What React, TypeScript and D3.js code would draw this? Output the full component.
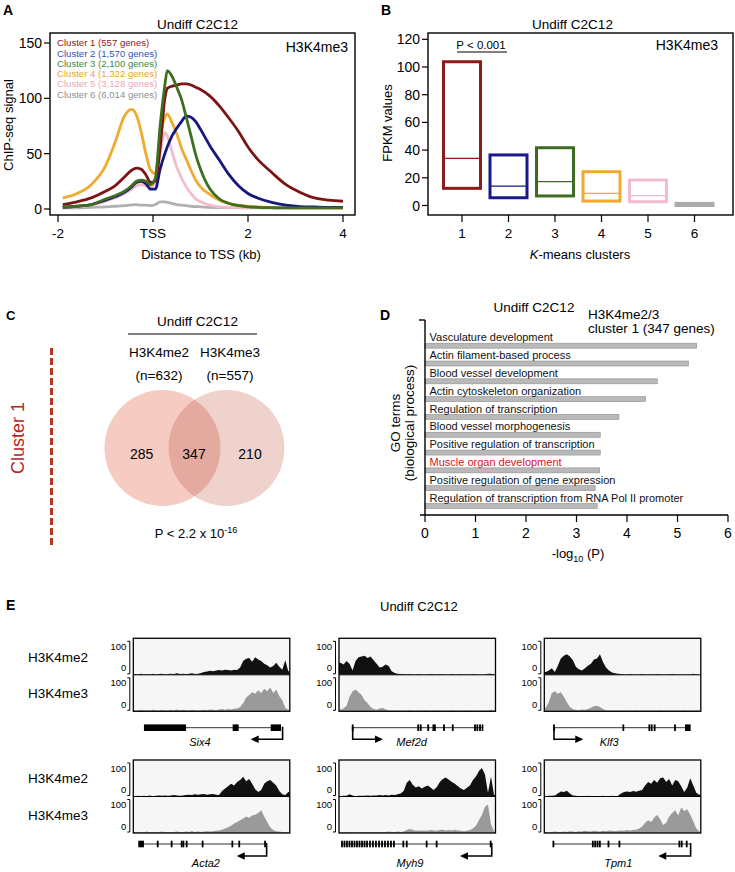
import React from 'react';
import * as d3 from 'd3';

const FONT = "'Liberation Sans', Arial, Helvetica, sans-serif";

// ---------------- Panel A data ----------------
const profileX = [-1.9, -1.6, -1.3, -1.0, -0.8, -0.6, -0.45, -0.35, -0.25, -0.15, -0.05, 0.05, 0.15, 0.25, 0.3, 0.4, 0.5, 0.6, 0.7, 0.8, 0.9, 1.0, 1.2, 1.4, 1.6, 1.8, 2.0, 2.2, 2.5, 2.8, 3.1, 3.4, 3.7, 4.0];
const cluster1Signal = [4, 6.5, 10, 16, 21, 29, 35, 37, 36, 31, 24, 25, 55, 100, 109, 111, 112, 113, 113, 112, 110, 108, 102, 93, 82, 70, 56, 45, 33, 22, 15, 10, 8, 7];
const cluster2Signal = [1.5, 2.5, 4, 8, 11, 15, 20, 24, 25, 23, 18, 18, 36, 50, 56, 66, 73, 79, 84, 83, 79, 72, 57, 44, 31, 21, 14, 10, 6, 3.5, 2.2, 1.8, 1.5, 1.5];
const cluster3Signal = [1.5, 2.5, 4, 9, 12, 16, 21, 25, 26, 25, 22, 28, 75, 112, 125, 120, 110, 99, 83, 66, 49, 36, 18, 9, 5, 3, 2, 1.5, 1.2, 1, 1, 1, 1, 1];
const cluster4Signal = [10, 14, 22, 39, 60, 84, 90, 85, 70, 50, 35, 32, 66, 83, 86, 78, 68, 55, 45, 35, 26, 20, 13, 8, 5, 3.5, 2.5, 2, 1.5, 1.2, 1, 1, 1, 1];
const cluster5Signal = [1.5, 2, 3.5, 7, 10, 14, 18, 21, 22, 21, 20, 24, 50, 69, 66, 52, 38, 28, 20, 14, 9, 6.5, 3.5, 2, 1.5, 1.5, 1.2, 1.2, 1, 1, 1, 1, 1, 1];
const cluster6Signal = [1, 1, 1.5, 2, 2.5, 3, 3.8, 4, 3.5, 3.5, 3, 4, 6.5, 6.5, 6, 5, 4, 3.5, 3, 2.5, 2.2, 2, 1.5, 1.3, 1.2, 1.2, 1.1, 1, 1, 1, 1, 1, 1, 1];
const clusterSignals = [cluster1Signal, cluster2Signal, cluster3Signal, cluster4Signal, cluster5Signal, cluster6Signal];
const clusterLabels = ['Cluster 1 (557 genes)', 'Cluster 2 (1,570 genes)', 'Cluster 3 (2,100 genes)', 'Cluster 4 (1,322 genes)', 'Cluster 5 (3,128 genes)', 'Cluster 6 (6,014 genes)'];
const yTicksA = [0, 50, 100, 150];
const xTicksA = [-2, 0, 2, 4];
const xTickLabelsA = ['-2', 'TSS', '2', '4'];

// ---------------- Panel B data ----------------
const boxClusters = [1, 2, 3, 4, 5, 6];
const boxQ1 = [12.4, 5.6, 6.9, 3.2, 2.7, 0];
const boxMedian = [34, 14, 17.2, 8.8, 7.1, 0.8];
const boxQ3 = [103.8, 36.5, 41.7, 24.4, 18.4, 1.5];
const yTicksB = [0, 20, 40, 60, 80, 100, 120];

// ---------------- Panel C data ----------------
const vennSets = ['H3K4me2', 'H3K4me3'];
const vennTotals = [632, 557];
const vennCounts = [285, 347, 210];

// ---------------- Panel D data ----------------
const goTerms = [
  'Vasculature development',
  'Actin filament-based process',
  'Blood vessel development',
  'Actin cytoskeleton organization',
  'Regulation of transcription',
  'Blood vessel morphogenesis',
  'Positive regulation of transcription',
  'Muscle organ development',
  'Positive regulation of gene expression',
  'Regulation of transcription from RNA Pol II promoter',
];
const goLogP = [5.38, 5.22, 4.6, 4.37, 3.84, 3.47, 3.47, 3.46, 3.37, 3.41];
const goHighlight = 'Muscle organ development';
const xTicksD = [0, 1, 2, 3, 4, 5, 6];

// ---------------- Panel E data ----------------
const trackMarks = ['H3K4me2', 'H3K4me3'];
const six4Me2 = [2, 1, 3, 1, 2, 1, 3, 1, 2, 3, 1, 2, 3, 2, 4, 2, 3, 2, 3, 4, 2, 3, 5, 8, 9, 11, 10, 12, 13, 12, 14, 13, 12, 14, 13, 20, 38, 44, 46, 36, 48, 42, 38, 30, 26, 20, 24, 33, 22, 14, 40, 10];
const six4Me3 = [3, 2, 4, 2, 3, 2, 4, 3, 2, 4, 3, 2, 4, 3, 5, 3, 4, 3, 2, 4, 3, 2, 3, 4, 3, 5, 4, 3, 5, 6, 4, 6, 5, 7, 8, 12, 22, 38, 45, 52, 48, 58, 50, 62, 55, 65, 50, 60, 42, 30, 10, 4];
const mef2dMe2 = [33, 28, 38, 30, 12, 38, 48, 50, 52, 46, 50, 40, 30, 20, 22, 28, 24, 10, 5, 3, 2, 2, 1, 2, 1, 1, 2, 1, 1, 1, 2, 1, 1, 2, 1, 1, 1, 2, 1, 1, 2, 1, 1, 1, 2, 1, 1, 1, 1, 3, 3, 1];
const mef2dMe3 = [5, 8, 15, 40, 55, 60, 52, 45, 30, 22, 12, 6, 4, 8, 9, 5, 3, 2, 2, 3, 2, 2, 2, 3, 2, 2, 2, 2, 3, 2, 2, 2, 3, 2, 2, 2, 2, 3, 2, 2, 2, 2, 3, 2, 2, 2, 2, 2, 3, 2, 4, 2];
const klf3Me2 = [8, 12, 18, 8, 25, 45, 52, 56, 50, 40, 22, 15, 12, 18, 25, 30, 42, 45, 56, 35, 20, 12, 6, 4, 3, 2, 1, 1, 2, 1, 1, 1, 2, 1, 1, 1, 1, 2, 1, 1, 1, 1, 2, 1, 1, 1, 1, 1, 1, 3, 1, 1];
const klf3Me3 = [10, 25, 50, 55, 48, 52, 40, 25, 12, 6, 4, 3, 5, 4, 6, 10, 14, 15, 12, 6, 3, 2, 2, 3, 2, 2, 3, 2, 2, 2, 3, 2, 2, 2, 3, 2, 2, 2, 3, 2, 2, 2, 3, 2, 2, 2, 3, 2, 2, 2, 3, 2];
const acta2Me2 = [1, 2, 1, 2, 1, 3, 1, 2, 3, 2, 3, 2, 3, 4, 3, 2, 3, 4, 5, 4, 6, 5, 6, 7, 5, 6, 7, 5, 4, 15, 22, 28, 35, 30, 40, 45, 54, 42, 48, 35, 20, 12, 18, 35, 42, 45, 38, 30, 15, 6, 4, 12];
const acta2Me3 = [3, 2, 3, 2, 4, 2, 3, 2, 3, 4, 2, 3, 2, 3, 4, 3, 2, 4, 3, 5, 3, 4, 3, 4, 5, 4, 5, 6, 7, 9, 12, 16, 20, 26, 30, 35, 40, 45, 42, 48, 50, 55, 62, 45, 30, 15, 8, 5, 4, 3, 3, 2];
const myh9Me2 = [1, 2, 2, 6, 3, 1, 2, 2, 2, 3, 2, 3, 3, 4, 3, 4, 3, 5, 4, 6, 8, 15, 38, 45, 32, 25, 28, 22, 27, 30, 24, 18, 26, 40, 48, 52, 46, 40, 35, 28, 22, 18, 24, 30, 45, 55, 70, 78, 60, 10, 55, 5];
const myh9Me3 = [2, 2, 3, 2, 3, 2, 2, 3, 2, 3, 2, 3, 3, 2, 3, 3, 4, 3, 3, 4, 3, 4, 8, 11, 9, 6, 7, 6, 7, 6, 8, 7, 6, 8, 9, 7, 8, 7, 9, 7, 6, 5, 6, 8, 12, 20, 35, 50, 72, 78, 25, 4];
const tpm1Me2 = [1, 2, 2, 3, 8, 14, 12, 16, 8, 3, 2, 1, 1, 1, 2, 1, 1, 1, 1, 2, 1, 1, 2, 1, 2, 8, 12, 14, 12, 15, 13, 16, 18, 30, 40, 35, 45, 38, 50, 52, 40, 48, 30, 45, 42, 28, 12, 25, 50, 30, 10, 5];
const tpm1Me3 = [3, 2, 3, 4, 3, 2, 4, 3, 5, 4, 3, 5, 4, 6, 5, 4, 6, 5, 4, 6, 5, 7, 6, 5, 6, 7, 6, 8, 7, 8, 9, 12, 18, 28, 35, 30, 42, 50, 38, 22, 28, 45, 55, 62, 48, 70, 60, 65, 50, 32, 12, 4];

// gene models in % of the locus window
const geneNames = ['Six4', 'Mef2d', 'Klf3', 'Acta2', 'Myh9', 'Tpm1'];
const geneSignals = [[six4Me2, six4Me3], [mef2dMe2, mef2dMe3], [klf3Me2, klf3Me3], [acta2Me2, acta2Me3], [myh9Me2, myh9Me3], [tpm1Me2, tpm1Me3]];
const geneExons: number[][][] = [
  [[6.8, 33.7], [63.5, 67.3], [87.8, 94.4]],
  [[8.75, 8.75], [50.6, 50.6], [52.2, 52.2], [57, 57], [60.3, 60.3], [61.3, 61.3], [67.1, 67.1], [72.7, 72.7], [86.9, 86.9], [88.4, 88.4], [90.1, 90.1], [91.2, 92.2]],
  [[6.2, 6.2], [50.5, 50.5], [67.1, 67.1], [68.6, 68.6], [70.5, 70.5], [83.5, 83.5], [89.9, 93.5]],
  [[3.2, 6.8], [15.6, 15.6], [24.5, 24.5], [30.9, 30.9], [32, 32], [34.1, 34.1], [44.3, 44.3], [63.3, 63.3], [67.7, 67.7], [84.2, 84.2]],
  [[1.9, 1.9], [3.5, 3.5], [5.1, 5.1], [6.7, 6.7], [8.3, 8.3], [9.9, 9.9], [11.5, 11.5], [13.1, 13.1], [14.7, 14.7], [16.3, 16.3], [17.9, 17.9], [19.8, 19.8], [21.7, 21.7], [23.6, 23.6], [25.6, 25.6], [27.5, 27.5], [29.4, 29.4], [31.3, 31.3], [33.2, 33.2], [35.1, 35.1], [41.1, 41.1], [43.3, 43.3], [56, 56], [62.4, 62.4], [96.9, 96.9]],
  [[5.8, 5.8], [31, 31], [32.5, 32.5], [34, 34], [35.5, 35.5], [41, 41], [48, 48], [86.3, 86.3], [87.8, 87.8], [91, 91]],
];
const geneSpan = [[6.8, 94.4], [8.75, 92.2], [6.2, 93.1], [3.2, 85.2], [1.7, 96.9], [5.8, 93.5]];
const geneTss = [95.4, 8.75, 6.2, 85.2, 97.6, 93.5];
const geneArrowTo = [75, 28.1, 24.9, 66.1, 77.3, 72.8];

// ---------------- layout ----------------
const clusterLineColors = ['#7d1414', '#16187f', '#3f6e1e', '#f0aa30', '#f2bccb', '#b0b0b0'];
const clusterTextColors = ['#8b1a1a', '#2f55b5', '#3b8a3b', '#e8a52a', '#eaa6b6', '#8f8f8f'];
const boxColors = ['#8b1a1a', '#1a1a8a', '#3d6b22', '#f0aa30', '#f2bccb', '#aaaaaa'];
const drawOrderA = [5, 4, 3, 1, 0, 2];
const geneLabelPos = [42.6, 46.4, 41.5, 46.4, 45.4, 47.3];

function PanelA() {
  const x = d3.scaleLinear().domain([-2, 4]).range([58, 343]);
  const y = d3.scaleLinear().domain([0, 150]).range([209, 43]);
  const line = d3.line<number>().x((_, i) => x(profileX[i])).y((d) => y(d)).curve(d3.curveMonotoneX);
  const f = { l: 50, t: 33, r: 355, b: 215 };
  return (
    <g>
      <text x={3} y={15} fontSize={14} fontWeight="bold">A</text>
      <text x={197.5} y={29} fontSize={13.5} textAnchor="middle">Undiff C2C12</text>
      {drawOrderA.map((i) => (
        <path key={i} d={line(clusterSignals[i]) || ''} fill="none" stroke={clusterLineColors[i]} strokeWidth={2.8} strokeLinejoin="round" />
      ))}
      <rect x={f.l} y={f.t} width={f.r - f.l} height={f.b - f.t} fill="none" stroke="#000" strokeWidth={1.4} />
      {yTicksA.map((v) => (
        <g key={v}>
          <line x1={f.l - 6} x2={f.l} y1={y(v)} y2={y(v)} stroke="#000" strokeWidth={1.2} />
          <text x={f.l - 8} y={y(v) + 5} fontSize={14} textAnchor="end">{v}</text>
        </g>
      ))}
      {xTicksA.map((v, i) => (
        <g key={v}>
          <line x1={x(v)} x2={x(v)} y1={f.b} y2={f.b + 7} stroke="#000" strokeWidth={1.2} />
          <text x={x(v)} y={238} fontSize={13.5} textAnchor="middle">{xTickLabelsA[i]}</text>
        </g>
      ))}
      <text transform="translate(13,125) rotate(-90)" textAnchor="middle" fontSize={13}>ChIP-seq signal</text>
      <text x={201} y={259} textAnchor="middle" fontSize={13}>Distance to TSS (kb)</text>
      {clusterLabels.map((t, i) => (
        <text key={t} x={57} y={46.2 + i * 10.3} fontSize={9.6} fill={clusterTextColors[i]}>{t}</text>
      ))}
      <text x={348} y={51.5} textAnchor="end" fontSize={14}>H3K4me3</text>
    </g>
  );
}

function PanelB() {
  const x = d3.scalePoint<number>().domain(boxClusters).range([462, 694.5]);
  const y = d3.scaleLinear().domain([0, 120]).range([205.5, 39.3]);
  const f = { l: 428, t: 33, r: 733, b: 215 };
  const hw = 18.5;
  return (
    <g>
      <text x={381} y={15} fontSize={14} fontWeight="bold">B</text>
      <text x={572.5} y={29} fontSize={13.5} textAnchor="middle">Undiff C2C12</text>
      <rect x={f.l} y={f.t} width={f.r - f.l} height={f.b - f.t} fill="none" stroke="#000" strokeWidth={1.4} />
      {yTicksB.map((v) => (
        <g key={v}>
          <line x1={f.l - 6} x2={f.l} y1={y(v)} y2={y(v)} stroke="#000" strokeWidth={1.2} />
          <text x={f.l - 8} y={y(v) + 5} fontSize={14} textAnchor="end">{v}</text>
        </g>
      ))}
      {boxClusters.map((c, i) => {
        const cx = x(c) as number;
        return (
          <g key={c}>
            <rect x={cx - hw} y={y(boxQ3[i])} width={hw * 2} height={y(boxQ1[i]) - y(boxQ3[i])} fill={i === 5 ? boxColors[i] : 'none'} stroke={boxColors[i]} strokeWidth={3} />
            <line x1={cx - hw} x2={cx + hw} y1={y(boxMedian[i])} y2={y(boxMedian[i])} stroke={boxColors[i]} strokeWidth={1.2} />
            <line x1={cx} x2={cx} y1={f.b} y2={f.b + 7} stroke="#000" strokeWidth={1.2} />
            <text x={cx} y={238} fontSize={13.5} textAnchor="middle">{c}</text>
          </g>
        );
      })}
      <text x={481} y={49} fontSize={11.5} textAnchor="middle">P &lt; 0.001</text>
      <line x1={457} x2={507} y1={52} y2={52} stroke="#000" strokeWidth={1.2} />
      <text x={718} y={50} textAnchor="end" fontSize={14}>H3K4me3</text>
      <text transform="translate(392,123) rotate(-90)" textAnchor="middle" fontSize={13}>FPKM values</text>
      <text x={580} y={259} textAnchor="middle" fontSize={13}>
        <tspan fontStyle="italic">K</tspan>-means clusters
      </text>
    </g>
  );
}

function PanelC() {
  const r = 58;
  const cy = 448;
  const cxL = 162.5;
  const cxR = 226.5;
  return (
    <g>
      <text x={6} y={320} fontSize={13} fontWeight="bold">C</text>
      <line x1={51.5} x2={51.5} y1={348} y2={546} stroke="#b5371f" strokeWidth={3} strokeDasharray="7 3" />
      <text transform="translate(24,438) rotate(-90)" textAnchor="middle" fontSize={18} fill="#b3261e">Cluster 1</text>
      <text x={197.5} y={326} fontSize={13.5} textAnchor="middle">Undiff C2C12</text>
      <line x1={128} x2={257} y1={334} y2={334} stroke="#000" strokeWidth={1.2} />
      {vennSets.map((s, i) => (
        <g key={s}>
          <text x={i === 0 ? 159 : 230} y={357} fontSize={13.5} textAnchor="middle">{s}</text>
          <text x={i === 0 ? 159 : 230} y={380} fontSize={13.5} textAnchor="middle">(n={vennTotals[i]})</text>
        </g>
      ))}
      <defs>
        <clipPath id="vennRight">
          <circle cx={cxR} cy={cy} r={r} />
        </clipPath>
      </defs>
      <circle cx={cxL} cy={cy} r={r} fill="#f6cbc2" />
      <circle cx={cxR} cy={cy} r={r} fill="#efd2cc" />
      <circle cx={cxL} cy={cy} r={r} fill="#e4aa9f" clipPath="url(#vennRight)" />
      <text x={141.7} y={459} fontSize={14} textAnchor="middle">{vennCounts[0]}</text>
      <text x={194} y={459} fontSize={14} textAnchor="middle">{vennCounts[1]}</text>
      <text x={250} y={459} fontSize={14} textAnchor="middle">{vennCounts[2]}</text>
      <text x={196} y={538} fontSize={13} textAnchor="middle">
        P &lt; 2.2 x 10<tspan fontSize={9} dy={-5}>-16</tspan>
      </text>
    </g>
  );
}

function PanelD() {
  const x = d3.scaleLinear().domain([0, 6]).range([425, 728]);
  const y = d3.scalePoint<string>().domain(goTerms).range([345.7, 506]);
  return (
    <g>
      <text x={380} y={320} fontSize={14} fontWeight="bold">D</text>
      <text x={534} y={312} fontSize={13.5} textAnchor="middle">Undiff C2C12</text>
      <text x={588} y={319} fontSize={13.5}>H3K4me2/3</text>
      <text x={588} y={332.5} fontSize={13.5}>cluster 1 (347 genes)</text>
      {goTerms.map((t, i) => {
        const yc = y(t) as number;
        return (
          <g key={t}>
            <rect x={x(0)} y={yc - 2.5} width={x(goLogP[i]) - x(0)} height={5} fill="#b9b9b9" stroke="#8f8f8f" strokeWidth={0.6} />
            <text x={429.5} y={yc - 4.3} fontSize={11} fill={t === goHighlight ? '#d0161b' : '#111'}>{t}</text>
          </g>
        );
      })}
      <line x1={425} x2={425} y1={320} y2={515} stroke="#000" strokeWidth={1.4} />
      <line x1={419} x2={425} y1={320} y2={320} stroke="#000" strokeWidth={1.4} />
      <line x1={420} x2={728} y1={515} y2={515} stroke="#000" strokeWidth={1.4} />
      {xTicksD.map((v) => (
        <g key={v}>
          <line x1={x(v)} x2={x(v)} y1={515} y2={522} stroke="#000" strokeWidth={1.2} />
          <text x={x(v)} y={538} fontSize={14} textAnchor="middle">{v}</text>
        </g>
      ))}
      <text x={578} y={558} fontSize={13} textAnchor="middle">
        -log<tspan fontSize={9} dy={4}>10</tspan><tspan dy={-4}> (P)</tspan>
      </text>
      <text transform="translate(400,423) rotate(-90)" textAnchor="middle" fontSize={13.5}>GO terms</text>
      <text transform="translate(414,423) rotate(-90)" textAnchor="middle" fontSize={13.5}>(biological process)</text>
    </g>
  );
}

function PanelE() {
  const colLeft = [133.3, 339, 544.3];
  const W = 156.5;
  const rowTop = [638.3, 760];
  const H = 36.5;
  const geneY = [727.7, 844];
  const nameY = [745.5, 866.5];
  const markColors = ['#111', '#9a9a9a'];
  return (
    <g>
      <text x={6} y={610} fontSize={14} fontWeight="bold">E</text>
      <text x={380} y={611} fontSize={13}>Undiff C2C12</text>
      <defs>
        {geneNames.map((g, gi) => {
          const col = gi % 3;
          const row = Math.floor(gi / 3);
          return (
            <clipPath id={`clip-${g}`} key={g}>
              <rect x={colLeft[col]} y={rowTop[row]} width={W} height={H * 2} />
            </clipPath>
          );
        })}
      </defs>
      {rowTop.map((rt, row) =>
        trackMarks.map((m, k) => (
          <text key={`${row}-${m}`} x={28} y={rt + k * H + H / 2 + 5} fontSize={13.5}>{m}</text>
        ))
      )}
      {geneNames.map((g, gi) => {
        const col = gi % 3;
        const row = Math.floor(gi / 3);
        const left = colLeft[col];
        const top = rowTop[row];
        const pos = d3.scaleLinear().domain([0, 100]).range([left, left + W]);
        const gy = geneY[row];
        const tssX = pos(geneTss[gi]);
        const arrX = pos(geneArrowTo[gi]);
        const dir = arrX > tssX ? 1 : -1;
        const ay = gy + (row === 0 ? 11.6 : 12);
        return (
          <g key={g}>
            {trackMarks.map((m, k) => {
              const tTop = top + k * H;
              const tBot = tTop + H;
              const vals = geneSignals[gi][k];
              const n = vals.length;
              const bx = d3.scaleLinear().domain([0, n]).range([left, left + W]);
              const vy = d3.scaleLinear().domain([0, 100]).range([tBot, tTop]);
              const pts: [number, number][] = [[bx(0), vals[0]], ...vals.map((v, i) => [bx(i + 0.5), v] as [number, number]), [bx(n), vals[n - 1]]];
              const area = d3.area<[number, number]>().x((d) => d[0]).y0(tBot).y1((d) => vy(d[1])).curve(d3.curveLinear);
              return (
                <g key={m}>
                  <rect x={left} y={tTop} width={W} height={H} fill="#f6f6f6" />
                  <path d={area(pts) || ''} fill={markColors[k]} clipPath={`url(#clip-${g})`} />
                  <text x={left - 7} y={tTop + 11.5} fontSize={9.5} textAnchor="end">100</text>
                  <text x={left - 7} y={tBot - 3.5} fontSize={9.5} textAnchor="end">0</text>
                  <path d={`M${left - 6},${tTop + 3} H${left - 3.5} V${tBot - 1} H${left - 6}`} fill="none" stroke="#000" strokeWidth={1} />
                </g>
              );
            })}
            <rect x={left} y={top} width={W} height={H * 2} fill="none" stroke="#000" strokeWidth={1.3} />
            <line x1={left} x2={left + W} y1={top + H} y2={top + H} stroke="#000" strokeWidth={1} />
            <line x1={pos(geneSpan[gi][0])} x2={pos(geneSpan[gi][1])} y1={gy} y2={gy} stroke="#333" strokeWidth={1} />
            {geneExons[gi].map((e, ei) => {
              const x0 = pos(e[0]);
              const narrow = e[1] === e[0];
              const w = narrow ? 1.8 : pos(e[1]) - x0;
              return <rect key={ei} x={narrow ? x0 - 0.9 : x0} y={gy - 3.3} width={w} height={6.6} fill="#000" />;
            })}
            <path d={`M${tssX},${gy - 1} V${ay} H${arrX - dir * 6}`} fill="none" stroke="#000" strokeWidth={1.6} />
            <path d={`M${arrX},${ay} L${arrX - dir * 8},${ay - 3.8} L${arrX - dir * 8},${ay + 3.8} Z`} fill="#000" />
            <text x={pos(geneLabelPos[gi])} y={nameY[row]} fontSize={11} fontStyle="italic" textAnchor="middle">{g}</text>
          </g>
        );
      })}
    </g>
  );
}

export default function App() {
  return (
    <svg width={735} height={872} style={{ position: 'absolute', left: 0, top: 0, background: '#fff' }} fontFamily={FONT}>
      <rect width={735} height={872} fill="#fff" />
      <PanelA />
      <PanelB />
      <PanelC />
      <PanelD />
      <PanelE />
    </svg>
  );
}
